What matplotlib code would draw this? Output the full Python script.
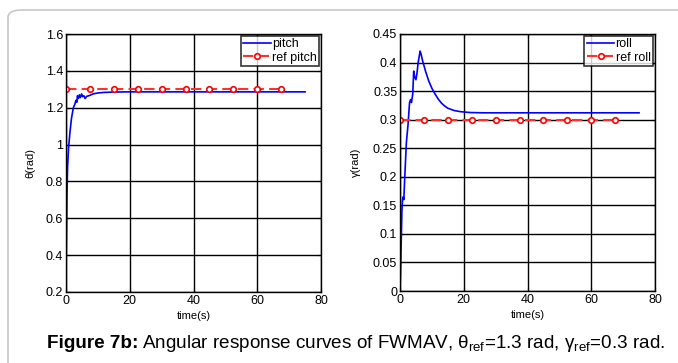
import matplotlib
matplotlib.use("Agg")
import matplotlib.pyplot as plt
from matplotlib.patches import FancyBboxPatch

plt.rcParams['font.family'] = ['Liberation Sans', 'DejaVu Sans']
plt.rcParams['mathtext.fontset'] = 'custom'
plt.rcParams['mathtext.rm'] = 'Liberation Sans'
plt.rcParams['mathtext.it'] = 'Liberation Sans'
plt.rcParams['mathtext.bf'] = 'Liberation Sans:bold'

# pitch response
pitch_t = [0, 0.15, 0.3, 0.5, 0.8, 1.2, 1.7, 2.3, 2.8, 3.1, 3.4, 3.6, 3.9, 4.2, 4.5,
           4.9, 5.2, 5.6, 6.0, 6.5, 7.2, 8.5, 10, 12, 15, 20, 75]
pitch_y = [0.29, 0.5, 0.72, 0.88, 0.98, 1.06, 1.14, 1.2, 1.22, 1.24, 1.23, 1.265, 1.25, 1.27, 1.255,
           1.275, 1.26, 1.265, 1.25, 1.262, 1.265, 1.275, 1.28, 1.283, 1.285, 1.286, 1.286]

# roll response
roll_t = [0, 0.2, 0.4, 0.6, 0.8, 1.0, 1.2, 1.5, 2.0, 2.5, 3.0, 3.3, 3.6, 4.0, 4.3, 4.6,
          5.0, 5.3, 5.7, 6.0, 6.3, 6.6, 7.0, 7.5, 8.0, 9, 10, 11, 12, 13, 14, 15, 17, 19,
          22, 26, 75]
roll_y = [0.0, 0.04, 0.09, 0.14, 0.16, 0.165, 0.16, 0.2, 0.26, 0.29, 0.33, 0.335, 0.33, 0.345,
          0.385, 0.375, 0.37, 0.38, 0.40, 0.41, 0.42, 0.415, 0.405, 0.395, 0.385, 0.368, 0.355,
          0.345, 0.336, 0.329, 0.324, 0.32, 0.316, 0.314, 0.3125, 0.312, 0.312]

# references, markers every 7.5 s
ref_t = [0, 7.5, 15, 22.5, 30, 37.5, 45, 52.5, 60, 67.5]
ref_pitch = [1.3] * len(ref_t)
ref_roll = [0.3] * len(ref_t)

pitch_yticks = [0.2, 0.4, 0.6, 0.8, 1, 1.2, 1.4, 1.6]
pitch_ylabels = ['0.2', '0.4', '0.6', '0.8', '1', '1.2', '1.4', '1.6']
roll_yticks = [0, 0.05, 0.1, 0.15, 0.2, 0.25, 0.3, 0.35, 0.4, 0.45]
roll_ylabels = ['0', '0.05', '0.1', '0.15', '0.2', '0.25', '0.3', '0.35', '0.4', '0.45']
xticks = [0, 20, 40, 60, 80]

fig = plt.figure(figsize=(6.78, 3.63), dpi=100)

# light frame around the figure
frame = FancyBboxPatch((8 / 678, -0.2), 1.2, 1.2 - 10 / 363,
                       boxstyle="round,pad=0,rounding_size=0.02",
                       transform=fig.transFigure, fill=False, ec='#c8c8c8', lw=1.2)
fig.patches.append(frame)

ax1 = fig.add_axes([66 / 678, 1 - 292 / 363, 255 / 678, 258 / 363])
ax2 = fig.add_axes([400 / 678, 1 - 291 / 363, 255 / 678, 257 / 363])


def style(ax, yticks, ylabels, ylim, ylab, lab_x):
    ax.set_xlim(0, 80)
    ax.set_ylim(*ylim)
    ax.set_xticks(xticks)
    ax.set_yticks(yticks)
    ax.set_yticklabels(ylabels)
    ax.grid(True, color='black', lw=1.0, ls='-')
    ax.tick_params(direction='in', top=True, right=True, labelsize=9, length=3, pad=2)
    for s in ax.spines.values():
        s.set_linewidth(1.0)
    ax.set_xlabel('time(s)', fontsize=8)
    ax.set_ylabel(ylab, fontsize=8)
    ax.xaxis.set_label_coords(0.5, -0.075)
    ax.yaxis.set_label_coords(lab_x, 0.5)


ax1.plot(pitch_t, pitch_y, color='#0000ff', lw=1.2, label='pitch')
ax1.plot(ref_t, ref_pitch, color='#ff3030', ls='--', lw=1.5, marker='o', ms=4,
         mfc='white', mec='#ff0000', mew=1.2, label='ref pitch', dashes=(5, 2.5))
style(ax1, pitch_yticks, pitch_ylabels, (0.2, 1.6), 'θ(rad)', -0.12)

ax2.plot(roll_t, roll_y, color='#0000ff', lw=1.2, label='roll')
ax2.plot(ref_t, ref_roll, color='#ff3030', ls='--', lw=1.5, marker='o', ms=4,
         mfc='white', mec='#ff0000', mew=1.2, label='ref roll', dashes=(5, 2.5))
style(ax2, roll_yticks, roll_ylabels, (0, 0.45), 'γ(rad)', -0.155)

for ax in (ax1, ax2):
    leg = ax.legend(loc='upper right', fontsize=9, frameon=True, fancybox=False,
                    edgecolor='black', borderpad=0.2, labelspacing=0.1,
                    handlelength=2.2, handletextpad=0.1, borderaxespad=0.15)
    leg.get_frame().set_linewidth(1.2)

# caption: bold part then normal part, placed side by side
cap_y = 0.055
t1 = fig.text(47 / 678, cap_y, 'Figure 7b:', ha='left', va='center',
              fontsize=13.6, fontweight='bold')
r = fig.canvas.get_renderer()
bb = t1.get_window_extent(renderer=r)
fig.text(bb.x1 / fig.bbox.width + 4 / 678, cap_y,
         r'Angular response curves of FWMAV, $\theta_{\mathrm{ref}}$=1.3 rad, '
         r'$\gamma_{\mathrm{ref}}$=0.3 rad.',
         ha='left', va='center', fontsize=13.6)

fig.savefig('out.png', dpi=100)
